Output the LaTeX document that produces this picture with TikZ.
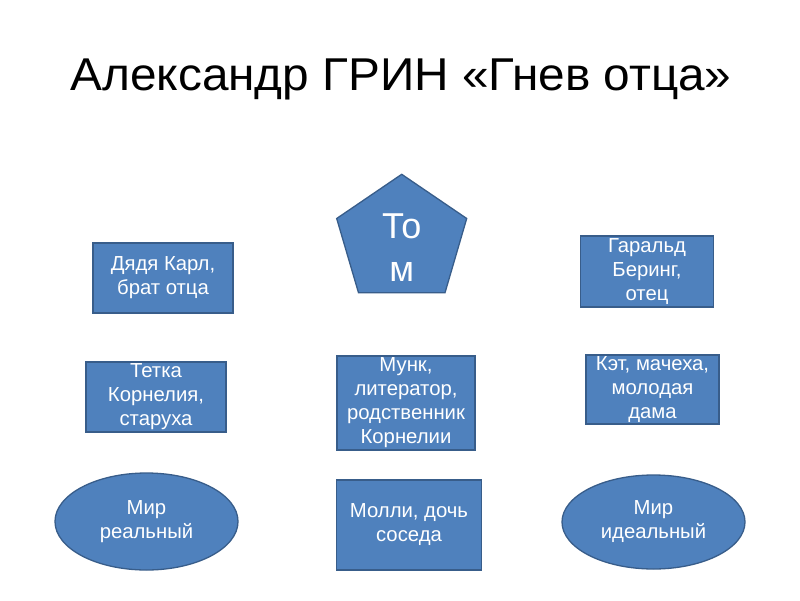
\documentclass[tikz,border=0pt]{standalone}
\usepackage{fontspec}
\setmainfont{Liberation Sans}
\usetikzlibrary{shapes.geometric}
\definecolor{boxfill}{HTML}{4F81BD}
\definecolor{boxline}{HTML}{385D8A}
\tikzset{
  base/.style={fill=boxfill, draw=boxline, line width=1.3pt, text=white, align=center, inner sep=0pt,
    font=\fontsize{20.3}{24}\selectfont},
  rbox/.style={base, rectangle},
  oval/.style={base, ellipse},
  pentaline/.style={fill=boxfill, draw=boxline, line width=1.3pt, line join=miter},
  pentatext/.style={text=white, align=center, inner sep=0pt, font=\fontsize{36}{42.7}\selectfont},
}
\begin{document}
\begin{tikzpicture}[x=1pt,y=-1pt]
\useasboundingbox[fill=white] (0,0) rectangle (800,600);
\node[anchor=base, font=\fontsize{46}{55}\selectfont] (title) at (401,90) {\scalebox{1.038}[1]{Александр ГРИН «Гнев отца»}};

\draw[pentaline] (401.7,174.3) -- (466.7,218.5) -- (445,292.7) -- (358.5,292.7) -- (336.7,218.5) -- cycle;
\node[pentatext] (tom) at (401.7,247.5) {То\\м};

\node[rbox, minimum width=140pt, minimum height=70pt] (karl) at (163,278) {Дядя Карл,\\брат отца};
\node[rbox, minimum width=133pt, minimum height=71pt] (harald) at (647,271.5) {Гаральд\\Беринг,\\отец};
\node[rbox, minimum width=140pt, minimum height=70pt] (kornelia) at (156,397) {Тетка\\Корнелия,\\старуха};
\node[rbox, minimum width=138pt, minimum height=94pt] (munk) at (406,403) {Мунк,\\литератор,\\родственник\\Корнелии};
\node[rbox, minimum width=133pt, minimum height=69pt] (ket) at (652.5,389.5) {Кэт, мачеха,\\молодая\\дама};
\node[rbox, minimum width=145pt, minimum height=90pt] (molly) at (409,525) {Молли, дочь\\соседа};
\node[oval, minimum width=183pt, minimum height=97pt] (real) at (146.5,521.5) {Мир\\реальный};
\node[oval, minimum width=183pt, minimum height=94pt] (ideal) at (653.5,522) {Мир\\идеальный};
\end{tikzpicture}
\end{document}
